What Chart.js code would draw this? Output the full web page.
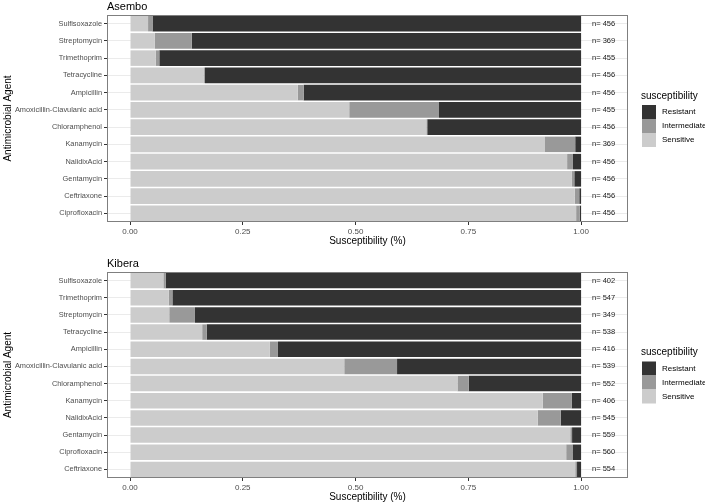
<!DOCTYPE html>
<html>
<head>
<meta charset="utf-8">
<script src="https://cdn.jsdelivr.net/npm/chart.js@4/dist/chart.umd.min.js"></script>
<style>
  body { margin: 0; background: #fff; }
  canvas { position: absolute; left: 0; }
  #asembo { top: 0; }
  #kibera { top: 250px; }
</style>
</head>
<body>
<canvas id="asembo" width="705" height="250"></canvas>
<canvas id="kibera" width="705" height="254"></canvas>
<script>
// Asembo panel
const asemboAgents = ['Sulfisoxazole', 'Streptomycin', 'Trimethoprim', 'Tetracycline', 'Ampicillin',
  'Amoxicillin-Clavulanic acid', 'Chloramphenol', 'Kanamycin', 'NalidixAcid', 'Gentamycin', 'Ceftriaxone', 'Ciprofloxacin'];
const asemboSensitive    = [0.040, 0.055, 0.057, 0.163, 0.372, 0.486, 0.657, 0.920, 0.969, 0.979, 0.986, 0.989];
const asemboIntermediate = [0.010, 0.082, 0.008, 0.003, 0.013, 0.199, 0.002, 0.067, 0.013, 0.006, 0.010, 0.008];
const asemboResistant    = [0.950, 0.863, 0.935, 0.834, 0.615, 0.315, 0.341, 0.013, 0.018, 0.015, 0.004, 0.003];
const asemboN = [456, 369, 455, 456, 456, 455, 456, 369, 456, 456, 456, 456];

// Kibera panel
const kiberaAgents = ['Sulfisoxazole', 'Trimethoprim', 'Streptomycin', 'Tetracycline', 'Ampicillin',
  'Amoxicillin-Clavulanic acid', 'Chloramphenol', 'Kanamycin', 'NalidixAcid', 'Gentamycin', 'Ciprofloxacin', 'Ceftriaxone'];
const kiberaSensitive    = [0.074, 0.086, 0.087, 0.160, 0.310, 0.475, 0.726, 0.915, 0.904, 0.976, 0.967, 0.987];
const kiberaIntermediate = [0.005, 0.008, 0.057, 0.010, 0.018, 0.117, 0.025, 0.064, 0.051, 0.004, 0.014, 0.004];
const kiberaResistant    = [0.921, 0.906, 0.856, 0.830, 0.672, 0.408, 0.249, 0.021, 0.045, 0.020, 0.019, 0.009];
const kiberaN = [402, 547, 349, 538, 416, 539, 552, 406, 545, 559, 560, 554];

const xTicks = [0, 0.25, 0.5, 0.75, 1];
const nLabelAt = 1.05;

const FONT = '"Liberation Sans", Arial, sans-serif';
const colors = { Sensitive: '#cccccc', Intermediate: '#999999', Resistant: '#333333' };

const panelPlugin = {
  id: 'panel',
  afterDraw(chart, args, opts) {
    const ctx = chart.ctx;
    const a = chart.chartArea;
    const x = chart.scales.x, y = chart.scales.y;
    ctx.save();
    // panel border
    ctx.strokeStyle = '#7f7f7f';
    ctx.lineWidth = 1;
    ctx.strokeRect(a.left + 0.5, a.top + 0.5, a.right - a.left - 1, a.bottom - a.top - 1);
    // title
    ctx.fillStyle = '#000';
    ctx.font = '11px ' + FONT;
    ctx.textAlign = 'left';
    ctx.textBaseline = 'alphabetic';
    ctx.fillText(opts.title, a.left, a.top - 5);
    // n labels
    ctx.font = '7.5px ' + FONT;
    ctx.fillStyle = '#1a1a1a';
    ctx.textAlign = 'center';
    ctx.textBaseline = 'middle';
    opts.n.forEach((v, i) => {
      ctx.fillText('n= ' + v, x.getPixelForValue(nLabelAt), y.getPixelForValue(i));
    });
    // legend
    const mid = (a.top + a.bottom) / 2;
    const lx = a.right + 14;
    ctx.font = '10px ' + FONT;
    ctx.fillStyle = '#000';
    ctx.textAlign = 'left';
    ctx.fillText('susceptibility', lx - 1, mid - 22.5);
    const ds = chart.data.datasets.slice().reverse();
    ctx.font = '8px ' + FONT;
    ds.forEach((d, i) => {
      const ky = mid - 13.5 + i * 14;
      ctx.fillStyle = d.backgroundColor;
      ctx.fillRect(lx, ky, 14, 14);
      ctx.fillStyle = '#000';
      ctx.fillText(d.label, lx + 20, ky + 7);
    });
    ctx.restore();
  }
};

function makeChart(id, title, agents, sens, inter, res, n, pad) {
  return new Chart(document.getElementById(id), {
    type: 'bar',
    data: {
      labels: agents,
      datasets: [
        { label: 'Sensitive', data: sens, backgroundColor: colors.Sensitive },
        { label: 'Intermediate', data: inter, backgroundColor: colors.Intermediate },
        { label: 'Resistant', data: res, backgroundColor: colors.Resistant }
      ]
    },
    options: {
      indexAxis: 'y',
      responsive: false,
      animation: false,
      barPercentage: 0.9,
      categoryPercentage: 1,
      borderWidth: 0,
      layout: { padding: pad },
      plugins: {
        legend: { display: false },
        tooltip: { enabled: false },
        panel: { title: title, n: n }
      },
      scales: {
        x: {
          type: 'linear',
          stacked: true,
          min: -0.051,
          max: 1.104,
          afterBuildTicks: s => { s.ticks = xTicks.map(v => ({ value: v })); },
          afterFit: s => { s.height = 26; },
          grid: { drawOnChartArea: false, tickLength: 3, tickColor: '#333' },
          border: { display: false },
          ticks: {
            padding: 1.5,
            color: '#4d4d4d',
            font: { size: 8, family: FONT },
            callback: v => Number(v).toFixed(2)
          },
          title: {
            display: true,
            text: 'Susceptibility (%)',
            color: '#000',
            font: { size: 10, family: FONT },
            padding: { top: 0, bottom: 0.7 }
          }
        },
        y: {
          type: 'category',
          stacked: true,
          afterFit: s => { s.width = 107; },
          grid: { offset: false, color: '#ebebeb', tickLength: 3, tickColor: '#333' },
          border: { display: false },
          ticks: {
            padding: 2,
            color: '#4d4d4d',
            font: { size: 7.4, family: FONT }
          },
          title: {
            display: true,
            text: 'Antimicrobial Agent',
            color: '#000',
            font: { size: 10, family: FONT },
            padding: { top: 2, bottom: 0 }
          }
        }
      }
    },
    plugins: [panelPlugin]
  });
}

makeChart('asembo', 'Asembo', asemboAgents, asemboSensitive, asemboIntermediate, asemboResistant, asemboN,
  { top: 15, right: 77, bottom: 2, left: 0 });
makeChart('kibera', 'Kibera', kiberaAgents, kiberaSensitive, kiberaIntermediate, kiberaResistant, kiberaN,
  { top: 22, right: 77, bottom: 0, left: 0 });
</script>
</body>
</html>
